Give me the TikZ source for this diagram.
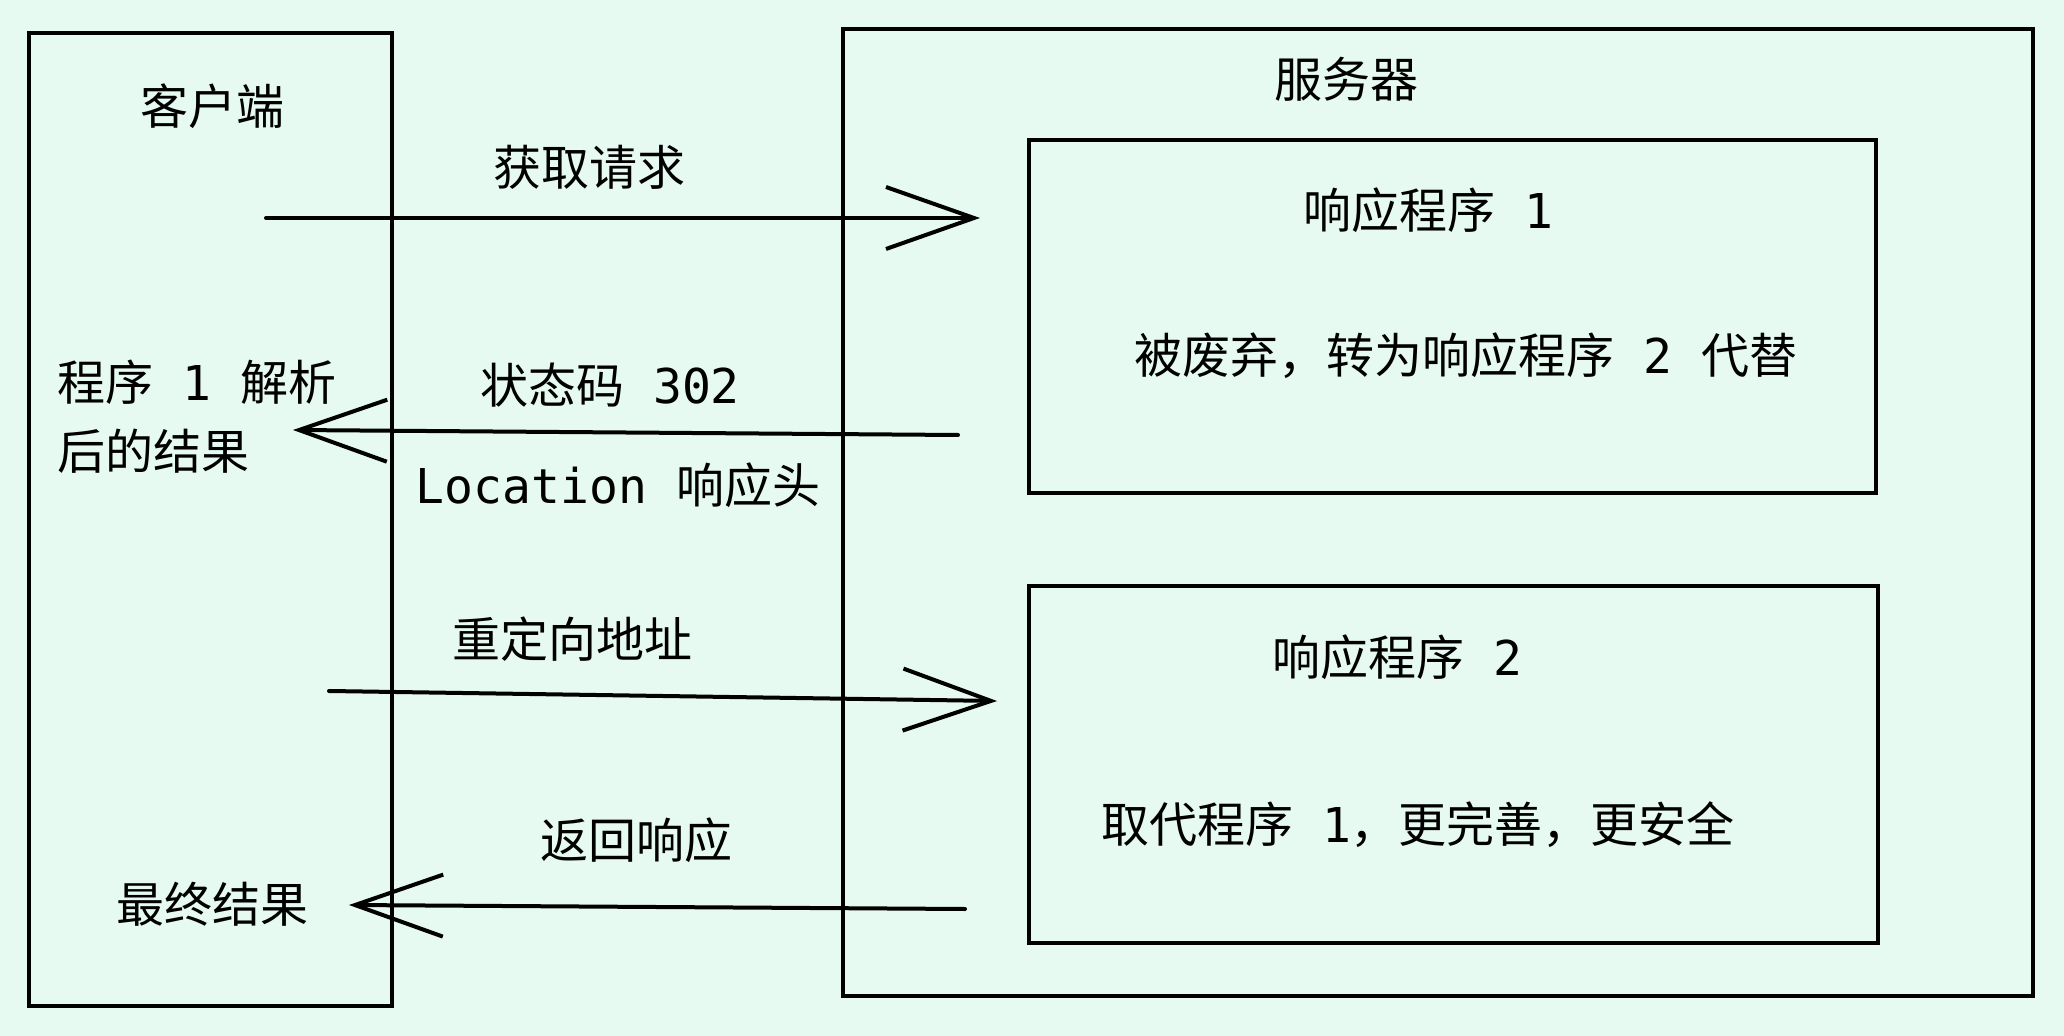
\documentclass[tikz,border=0pt]{standalone}
\usepackage{fontspec}
\setmainfont{DejaVu Sans Mono}
\newfontfamily\cjk{Noto Sans CJK SC}
\usetikzlibrary{arrows.meta,positioning}
\definecolor{mintbg}{RGB}{230,250,242}
\newcommand\zh[1]{{\cjk #1}}

\begin{document}
\begin{tikzpicture}[x=0.5pt,y=-0.5pt] % 1 unit = 1 px of the sketch
\tikzstyle{sketchbox} = [draw, line width=2pt, inner sep=0pt] % frame of a box
\tikzstyle{lbl} = [font=\fontsize{24}{34.5}\selectfont, inner sep=0pt] % text style
\tikzstyle{msg} = [draw, line width=2pt, line cap=round, -{Straight Barb[length=44pt,width=31pt]}] % message arrow

\fill[mintbg] (0,0) rectangle (2064,1036);
\useasboundingbox (0,0) rectangle (2064,1036);

% boxes
\node[sketchbox, minimum width=181.5pt, minimum height=486.5pt] (client) at (210.5,519.5) {};
\node[sketchbox, minimum width=595pt, minimum height=483.5pt] (server) at (1438,512.5) {};
\node[sketchbox, minimum width=423.5pt, minimum height=176.5pt] (resp1) at (1452.5,316.5) {};
\node[sketchbox, minimum width=424.5pt, minimum height=178.5pt] (resp2) at (1453.5,764.5) {};

% texts in the boxes
\node[lbl] (clientname) at (212,106) {\zh{客户端}};
\node[lbl, anchor=west, align=left] (parsed) at (57,417) {\zh{程序} 1 \zh{解析}\\\zh{后的结果}};
\node[lbl] (final) at (212,904) {\zh{最终结果}};
\node[lbl] (servername) at (1346,79) {\zh{服务器}};
\node[lbl] (resp1name) at (1428,210) {\zh{响应程序} 1};
\node[lbl] (resp1note) at (1466,356) {\zh{被废弃，转为响应程序} 2 \zh{代替}};
\node[lbl] (resp2name) at (1397,657) {\zh{响应程序} 2};
\node[lbl] (resp2note) at (1418,825) {\zh{取代程序} 1\zh{，更完善，更安全}};

% ends of the arrows
\coordinate (getS) at (266,218);
\coordinate (getE) at (980,218);
\coordinate (codeS) at (958,435);
\coordinate (codeE) at (293,430);
\coordinate (redirS) at (329,691);
\coordinate (redirE) at (997,701);
\coordinate (backS) at (965,909);
\coordinate (backE) at (349,905);

% messages
\draw[msg] (getS) -- (getE);
\draw[msg] (codeS) -- (codeE);
\draw[msg] (redirS) -- (redirE);
\draw[msg] (backS) -- (backE);

\node[lbl] (getlbl) at (589,167) {\zh{获取请求}};
\node[lbl] (codelbl) at (610,385) {\zh{状态码} 302};
\node[lbl] (loclbl) at (618,485) {Location \zh{响应头}};
\node[lbl] (redirlbl) at (572,639) {\zh{重定向地址}};
\node[lbl] (backlbl) at (636,840) {\zh{返回响应}};
\end{tikzpicture}
\end{document}
